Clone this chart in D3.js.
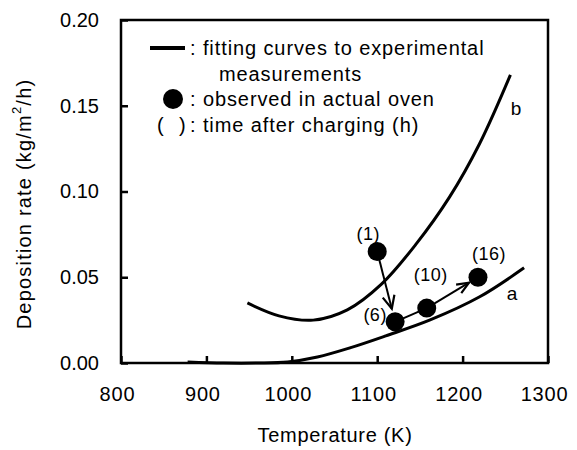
<!DOCTYPE html>
<html>
<head>
<meta charset="utf-8">
<script src="https://cdn.jsdelivr.net/npm/d3@7"></script>
<style>
  html, body { margin: 0; padding: 0; background: #fff; }
  svg { display: block; font-family: "Liberation Sans", Arial, sans-serif; }
</style>
</head>
<body>
<svg id="chart" width="577" height="450"></svg>
<script>
// ---- data ----
const xTicks = [800, 900, 1000, 1100, 1200, 1300];
const yTicks = [0.00, 0.05, 0.10, 0.15, 0.20];
const curveBTemp = [948, 985, 1025, 1065, 1105, 1145, 1185, 1220, 1256];
const curveBRate = [0.035, 0.0275, 0.025, 0.031, 0.046, 0.069, 0.097, 0.128, 0.168];
const curveATemp = [878, 920, 960, 995, 1030, 1068, 1110, 1162, 1220, 1272];
const curveARate = [0.0006, 0.0, 0.0, 0.0006, 0.0035, 0.0088, 0.0158, 0.0251, 0.0386, 0.0555];
const obsTemp = [1100, 1121, 1158, 1218];
const obsRate = [0.065, 0.024, 0.032, 0.050];
const obsLabels = ["(1)", "(6)", "(10)", "(16)"];
const curveLabels = ["a", "b"];
const legendTexts = [": fitting curves to experimental", "measurements", ": observed in actual oven", ": time after charging (h)"];

// ---- layout ----
const svg = d3.select("#chart");
const x = d3.scaleLinear().domain([800, 1300]).range([121, 548]);
const y = d3.scaleLinear().domain([0, 0.20]).range([363, 20]);
const font = 20;

// axes
const gx = svg.append("g").attr("transform", `translate(0,${y(0)})`)
  .call(d3.axisBottom(x).tickValues(xTicks).tickFormat(d3.format("d"))
    .tickSizeInner(-7).tickSizeOuter(0).tickPadding(24));
gx.select(".domain").remove();
gx.selectAll("line").attr("stroke", "#000").attr("stroke-width", 2.5);
gx.selectAll("text").attr("font-size", font).attr("dx", -4).attr("letter-spacing", 0.8).attr("fill", "#000")
  .attr("font-family", "Liberation Sans, Arial, sans-serif");

const gy = svg.append("g").attr("transform", `translate(${x(800)},0)`)
  .call(d3.axisLeft(y).tickValues(yTicks).tickFormat(d3.format(".2f"))
    .tickSizeInner(-7).tickSizeOuter(0).tickPadding(22));
gy.select(".domain").remove();
gy.selectAll("line").attr("stroke", "#000").attr("stroke-width", 2.5);
gy.selectAll("text").attr("font-size", font).attr("fill", "#000")
  .attr("font-family", "Liberation Sans, Arial, sans-serif");

// frame
svg.append("rect")
  .attr("x", x(800)).attr("y", y(0.20))
  .attr("width", x(1300) - x(800)).attr("height", y(0) - y(0.20))
  .attr("fill", "none").attr("stroke", "#000").attr("stroke-width", 2.5);

// axis titles
svg.append("text").attr("x", 335).attr("y", 435).attr("text-anchor", "middle")
  .attr("dominant-baseline", "central").attr("font-size", font).attr("letter-spacing", 0.7)
  .text("Temperature (K)");

const yt = svg.append("text").attr("transform", "translate(24,204) rotate(-90)")
  .attr("text-anchor", "middle").attr("dominant-baseline", "central")
  .attr("font-size", font).attr("letter-spacing", 1.2);
yt.append("tspan").text("Deposition rate (kg/m");
yt.append("tspan").attr("font-size", 13).attr("dy", -8).text("2");
yt.append("tspan").attr("dy", 8).text("/h)");

// curves
const line = d3.line().x(d => x(d[0])).y(d => y(d[1])).curve(d3.curveCatmullRom.alpha(0.5));
const curveA = curveATemp.map((t, i) => [t, curveARate[i]]);
const curveB = curveBTemp.map((t, i) => [t, curveBRate[i]]);
svg.append("path").datum(curveA).attr("d", line).attr("fill", "none")
  .attr("stroke", "#000").attr("stroke-width", 3);
svg.append("path").datum(curveB).attr("d", line).attr("fill", "none")
  .attr("stroke", "#000").attr("stroke-width", 3);

svg.append("text").attr("x", 512).attr("y", 293).attr("text-anchor", "middle")
  .attr("dominant-baseline", "central").attr("font-size", 19).text(curveLabels[0]);
svg.append("text").attr("x", 516).attr("y", 108).attr("text-anchor", "middle")
  .attr("dominant-baseline", "central").attr("font-size", 19).text(curveLabels[1]);

// observed points, connections and arrows
const pts = obsTemp.map((t, i) => [x(t), y(obsRate[i])]);
const r = 9.5;
function arrowHead(tip, from, len, half) {
  const dx = tip[0] - from[0], dy = tip[1] - from[1];
  const L = Math.hypot(dx, dy), ux = dx / L, uy = dy / L;
  const bx = tip[0] - ux * len, by = tip[1] - uy * len;
  return `M${bx - uy * half},${by + ux * half}L${tip[0]},${tip[1]}L${bx + uy * half},${by - ux * half}`;
}
function trimmed(a, b, gap) {
  const dx = b[0] - a[0], dy = b[1] - a[1];
  const L = Math.hypot(dx, dy);
  return [b[0] - dx / L * gap, b[1] - dy / L * gap];
}
const gArr = svg.append("g").attr("stroke", "#000").attr("fill", "none").attr("stroke-width", 2);
// (1) -> (6)
const tip1 = trimmed(pts[0], pts[1], r + 4);
gArr.append("path").attr("d", `M${pts[0][0]},${pts[0][1]}L${tip1[0]},${tip1[1]}`);
gArr.append("path").attr("d", arrowHead(tip1, pts[0], 13, 6)).attr("stroke-width", 2.2);
// (6) -> (10)
gArr.append("path").attr("d", `M${pts[1][0]},${pts[1][1]}L${pts[2][0]},${pts[2][1]}`);
// (10) -> (16)
const tip2 = trimmed(pts[2], pts[3], r + 1);
gArr.append("path").attr("d", `M${pts[2][0]},${pts[2][1]}L${tip2[0]},${tip2[1]}`);
gArr.append("path").attr("d", arrowHead(tip2, pts[2], 12, 5)).attr("stroke-width", 2.2);

svg.append("g").selectAll("circle").data(pts).join("circle")
  .attr("cx", d => d[0]).attr("cy", d => d[1]).attr("r", r).attr("fill", "#000");

const labelOff = [[-9, -18], [-20, -7], [4, -33], [11, -23]];
svg.append("g").selectAll("text").data(obsLabels).join("text")
  .attr("x", (d, i) => pts[i][0] + labelOff[i][0])
  .attr("y", (d, i) => pts[i][1] + labelOff[i][1])
  .attr("text-anchor", "middle").attr("dominant-baseline", "central")
  .attr("font-size", 18).attr("letter-spacing", 0.5).text(d => d);

// legend
const lg = svg.append("g").attr("font-size", font);
lg.append("line").attr("x1", 150).attr("x2", 185).attr("y1", 48).attr("y2", 48)
  .attr("stroke", "#000").attr("stroke-width", 4);
lg.append("text").attr("x", 190).attr("y", 48).attr("dominant-baseline", "central")
  .attr("letter-spacing", 0.9).text(legendTexts[0]);
lg.append("text").attr("x", 219).attr("y", 74).attr("dominant-baseline", "central")
  .attr("letter-spacing", 0.9).text(legendTexts[1]);
lg.append("circle").attr("cx", 173).attr("cy", 99).attr("r", 10).attr("fill", "#000");
lg.append("text").attr("x", 190).attr("y", 99).attr("dominant-baseline", "central")
  .attr("letter-spacing", 0.9).text(legendTexts[2]);
lg.append("text").attr("x", 157).attr("y", 125).attr("dominant-baseline", "central").text("(");
lg.append("text").attr("x", 179).attr("y", 125).attr("dominant-baseline", "central").text(")");
lg.append("text").attr("x", 190).attr("y", 125).attr("dominant-baseline", "central")
  .attr("letter-spacing", 0.9).text(legendTexts[3]);
</script>
</body>
</html>
